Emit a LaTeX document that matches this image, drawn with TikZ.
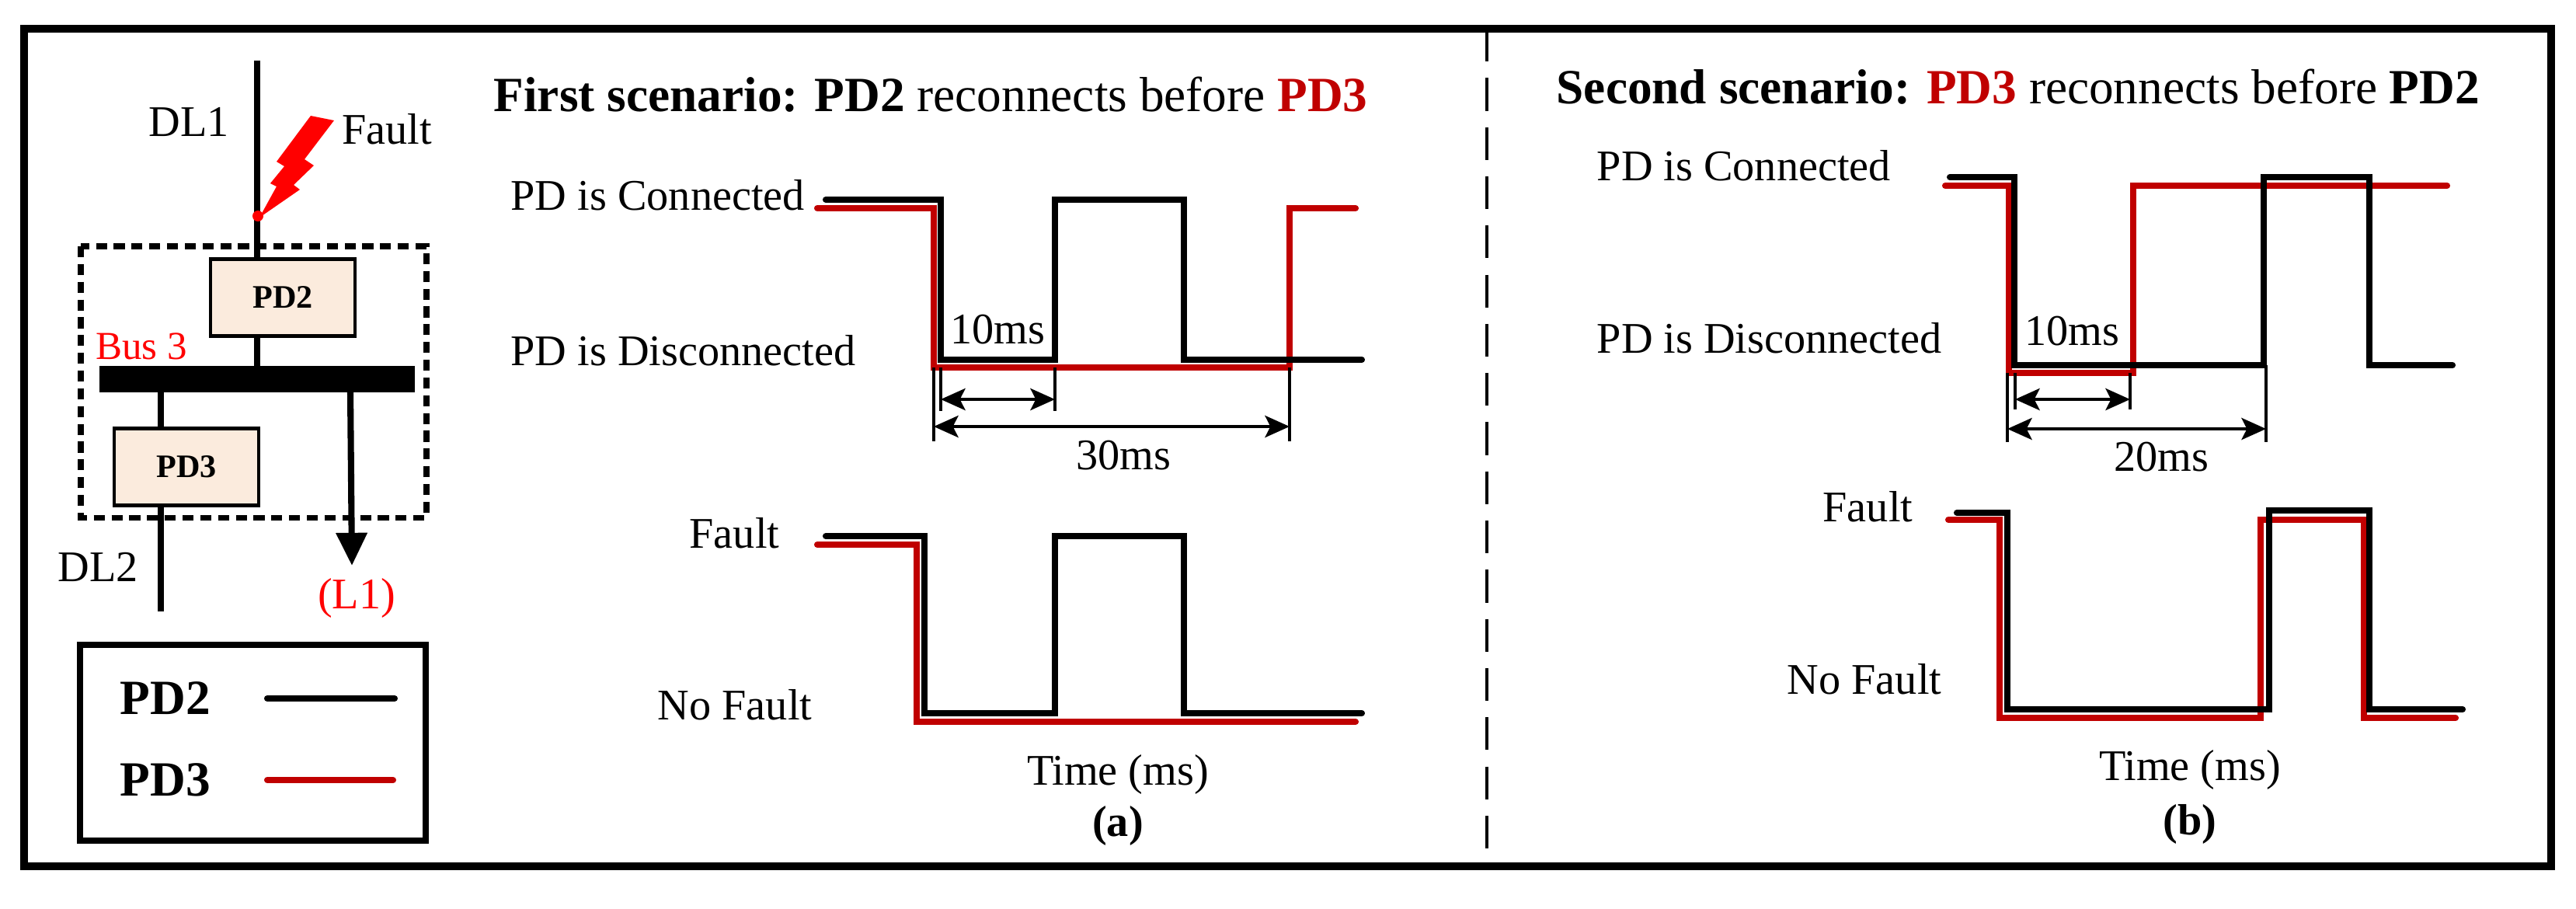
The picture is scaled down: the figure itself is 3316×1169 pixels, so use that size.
\documentclass[tikz,border=0pt]{standalone}
\usepackage{fontspec}
\setmainfont{Liberation Serif}
\usetikzlibrary{arrows.meta}
\definecolor{wred}{HTML}{C00000}
\definecolor{bred}{HTML}{FF0000}
\definecolor{pdfill}{HTML}{FBEBDD}
\begin{document}
\begin{tikzpicture}[x=0.01cm,y=-0.01cm,
  lbl/.style={font=\fontsize{16}{18}\selectfont,inner sep=0pt},
  ttl/.style={font=\fontsize{18}{20}\selectfont,inner sep=0pt},
  wblk/.style={line width=2.3pt,black,line cap=round,line join=miter},
  wrd/.style={line width=2.3pt,wred,line cap=round,line join=miter},
  tick/.style={line width=0.9pt},
  dim/.style={line width=1.1pt,{Stealth[length=9pt,width=8pt,inset=2pt]}-{Stealth[length=9pt,width=8pt,inset=2pt]}},
  pdbox/.style={draw,line width=1.2pt,fill=pdfill,minimum width=1.86cm,minimum height=0.99cm,inner sep=0pt,font=\fontsize{12}{14}\selectfont\bfseries},
  feeder/.style={line width=2.3pt}]
\useasboundingbox (0,0) rectangle (3316,1169);
% outer frame and divider
\draw[line width=3pt] (31,37) rectangle (3284,1115);
\draw[line width=1.2pt,dash pattern=on 12pt off 6pt] (1914,37) -- (1914,1115);
% ---------------- left one-line diagram
\draw[line width=2pt,dash pattern=on 4pt off 2.5pt] (104,317) rectangle (549,666);
\node[pdbox] (pd2) at (364,383) {PD2};
\node[pdbox] (pd3) at (240,601) {PD3};
\node[draw,fill=black,minimum width=4.04cm,minimum height=0.32cm,inner sep=0pt] (bus) at (331,488) {};
\coordinate (dl1top) at (331,78);
\coordinate (dl2end) at (207,787);
\coordinate (l1tip) at (453,728);
\draw[feeder] (dl1top) -- (pd2.north -| dl1top);
\draw[feeder] (pd2.south -| dl1top) -- (bus.north -| dl1top);
\draw[feeder] (bus.south -| dl2end) -- (pd3.north -| dl2end);
\draw[feeder] (pd3.south -| dl2end) -- (dl2end);
\draw[feeder,-{Triangle[length=12pt,width=11pt]}] (451,504) -- (l1tip);
\fill[bred] (400,149) -- (430,155) -- (392,205) -- (404,213) -- (378,238) -- (386,244) -- (334,280) -- (356,240) -- (348,236) -- (366,214) -- (356,208) -- cycle;
\fill[bred] (332,278) circle (7);
\node[lbl] (dl1) at (243,157) {DL1};
\node[lbl] (flt) at (498,166) {Fault};
\node[lbl,text=bred,font=\fontsize{14.5}{16}\selectfont] (bus3) at (182,446) {Bus 3};
\node[lbl] (dl2) at (126,730) {DL2};
\node[lbl,text=bred] (l1) at (459,770) {(L1)};
% legend
\draw[line width=2.5pt] (103,830) rectangle (548,1082);
\node[inner sep=0pt,font=\fontsize{18}{20}\selectfont\bfseries] (lg2) at (213,899) {PD2};
\node[inner sep=0pt,font=\fontsize{18}{20}\selectfont\bfseries] (lg3) at (213,1004) {PD3};
\draw[line width=2.3pt,line cap=round] (344,899) -- (508,899);
\draw[line width=2.3pt,line cap=round,wred] (344,1004) -- (506,1004);
% ---------------- panel (a)
\node[ttl,anchor=base west] (ta) at (635,143) {\textbf{First scenario: PD2} reconnects before \textbf{\color{wred}PD3}};
\node[lbl,anchor=mid west] at (657,262) {PD is Connected};
\node[lbl,anchor=mid west] at (657,462) {PD is Disconnected};
\node[lbl,anchor=mid east] at (1004,697) {Fault};
\node[lbl,anchor=mid east] at (1046,918) {No Fault};
\node[lbl] at (1439,997) {Time (ms)};
\node[lbl,font=\fontsize{16}{18}\selectfont\bfseries] at (1439,1063) {(a)};
\draw[wrd] (1052,268) -- (1202,268) -- (1202,473) -- (1660,473) -- (1660,268) -- (1745,268);
\draw[wblk] (1063,257) -- (1211,257) -- (1211,463) -- (1358,463) -- (1358,257) -- (1524,257) -- (1524,463) -- (1753,463);
\draw[tick] (1202,473) -- (1202,568) (1211,473) -- (1211,529) (1358,473) -- (1358,529) (1660,473) -- (1660,568);
\draw[dim] (1211,514) -- (1358,514);
\draw[dim] (1202,549) -- (1660,549);
\node[lbl] at (1284,424) {10ms};
\node[lbl] at (1446,586) {30ms};
\draw[wrd] (1052,701) -- (1180,701) -- (1180,929) -- (1745,929);
\draw[wblk] (1063,690) -- (1190,690) -- (1190,918) -- (1358,918) -- (1358,690) -- (1524,690) -- (1524,918) -- (1753,918);
% ---------------- panel (b)
\node[ttl,anchor=base west] (tb) at (2003,133) {\textbf{Second scenario: \color{wred}PD3} reconnects before \textbf{PD2}};
\node[lbl,anchor=mid west] at (2055,224) {PD is Connected};
\node[lbl,anchor=mid west] at (2055,446) {PD is Disconnected};
\node[lbl,anchor=mid east] at (2463,663) {Fault};
\node[lbl,anchor=mid east] at (2500,885) {No Fault};
\node[lbl] at (2819,991) {Time (ms)};
\node[lbl,font=\fontsize{16}{18}\selectfont\bfseries] at (2819,1061) {(b)};
\draw[wrd] (2504,239) -- (2586,239) -- (2586,480) -- (2746,480) -- (2746,239) -- (3150,239);
\draw[wblk] (2510,228) -- (2593,228) -- (2593,470) -- (2914,470) -- (2914,228) -- (3050,228) -- (3050,470) -- (3157,470);
\draw[tick] (2584,480) -- (2584,569) (2594,480) -- (2594,527) (2742,480) -- (2742,527) (2917,470) -- (2917,569);
\draw[dim] (2594,514) -- (2742,514);
\draw[dim] (2584,552) -- (2917,552);
\node[lbl] at (2667,426) {10ms};
\node[lbl] at (2782,588) {20ms};
\draw[wrd] (2508,669) -- (2574,669) -- (2574,924) -- (2910,924) -- (2910,669) -- (3043,669) -- (3043,924) -- (3161,924);
\draw[wblk] (2519,660) -- (2584,660) -- (2584,913) -- (2921,913) -- (2921,657) -- (3050,657) -- (3050,913) -- (3170,913);
\end{tikzpicture}
\end{document}
